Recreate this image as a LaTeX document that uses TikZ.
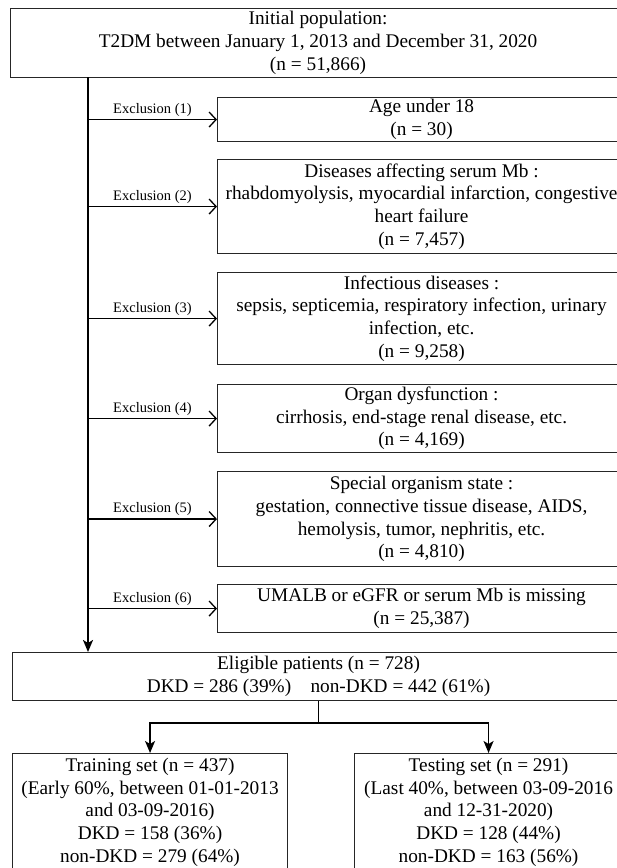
\documentclass[tikz,border=0pt]{standalone}
\usepackage{fontspec}
\setmainfont{Liberation Serif}
\usetikzlibrary{arrows.meta}
\begin{document}
\begin{tikzpicture}[x=1pt,y=-1pt,
  box/.style={draw=black!85, line width=1.1pt, align=center, inner sep=0pt,
    anchor=north west, font=\fontsize{19.3}{22.7}\selectfont},
  link/.style={line width=1.8pt},
  exarrow/.style={link, -{Straight Barb[length=7pt,width=15pt,line width=1.3pt]}},
  downarrow/.style={link, -{Stealth[length=12pt,width=10pt,inset=3pt]}},
  exlabel/.style={font=\fontsize{14.5}{16}\selectfont, above, inner sep=2.5pt, midway}]
\useasboundingbox (0,0) rectangle (617,868);
\newcommand{\cln}{\hspace{0.25em}:}
% boxes
\node[box, minimum width=615, minimum height=69] (top) at (10,8)
  {Initial population:\\T2DM between January 1, 2013 and December 31, 2020\\(n = 51,866)};
\node[box, minimum width=408, minimum height=44] (ex1) at (217,97)
  {Age under 18\\(n = 30)};
\node[box, minimum width=408, minimum height=94] (ex2) at (217,159)
  {Diseases affecting serum Mb\cln\\rhabdomyolysis, myocardial infarction, congestive\\heart failure\\(n = 7,457)};
\node[box, minimum width=408, minimum height=92] (ex3) at (217,272)
  {Infectious diseases\cln\\sepsis, septicemia, respiratory infection, urinary\\infection, etc.\\(n = 9,258)};
\node[box, minimum width=408, minimum height=68] (ex4) at (217,384)
  {Organ dysfunction\cln\\cirrhosis, end-stage renal disease, etc.\\(n = 4,169)};
\node[box, minimum width=408, minimum height=95] (ex5) at (217,471)
  {Special organism state\cln\\gestation, connective tissue disease, AIDS,\\hemolysis, tumor, nephritis, etc.\\(n = 4,810)};
\node[box, minimum width=408, minimum height=48] (ex6) at (217,584)
  {UMALB or eGFR or serum Mb is missing\\(n = 25,387)};
\node[box, minimum width=612, minimum height=48] (elig) at (12,652)
  {Eligible patients (n = 728)\\DKD = 286 (39\%)\quad non-DKD = 442 (61\%)};
\node[box, minimum width=275, minimum height=117] (train) at (12,753)
  {Training set (n = 437)\\(Early 60\%, between 01-01-2013\\and 03-09-2016)\\DKD = 158 (36\%)\\non-DKD = 279 (64\%)};
\node[box, minimum width=268, minimum height=117] (test) at (354,753)
  {Testing set (n = 291)\\(Last 40\%, between 03-09-2016\\and 12-31-2020)\\DKD = 128 (44\%)\\non-DKD = 163 (56\%)};
% main line
\coordinate (vtop) at (88,77);
\draw[downarrow] (vtop) -- (vtop |- elig.north);
\draw[exarrow] (ex1.west -| vtop) -- (ex1.west) node[exlabel]{Exclusion (1)};
\draw[exarrow] (ex2.west -| vtop) -- (ex2.west) node[exlabel]{Exclusion (2)};
\draw[exarrow] (ex3.west -| vtop) -- (ex3.west) node[exlabel]{Exclusion (3)};
\draw[exarrow] (ex4.west -| vtop) -- (ex4.west) node[exlabel]{Exclusion (4)};
\draw[exarrow] (ex5.west -| vtop) -- (ex5.west) node[exlabel]{Exclusion (5)};
\draw[exarrow] (ex6.west -| vtop) -- (ex6.west) node[exlabel]{Exclusion (6)};
% split
\draw[link] (elig.south) -- ++(0,22) coordinate (bj);
\draw[downarrow] (bj) -| (train.north);
\draw[downarrow] (bj) -| (test.north);
\end{tikzpicture}
\end{document}
